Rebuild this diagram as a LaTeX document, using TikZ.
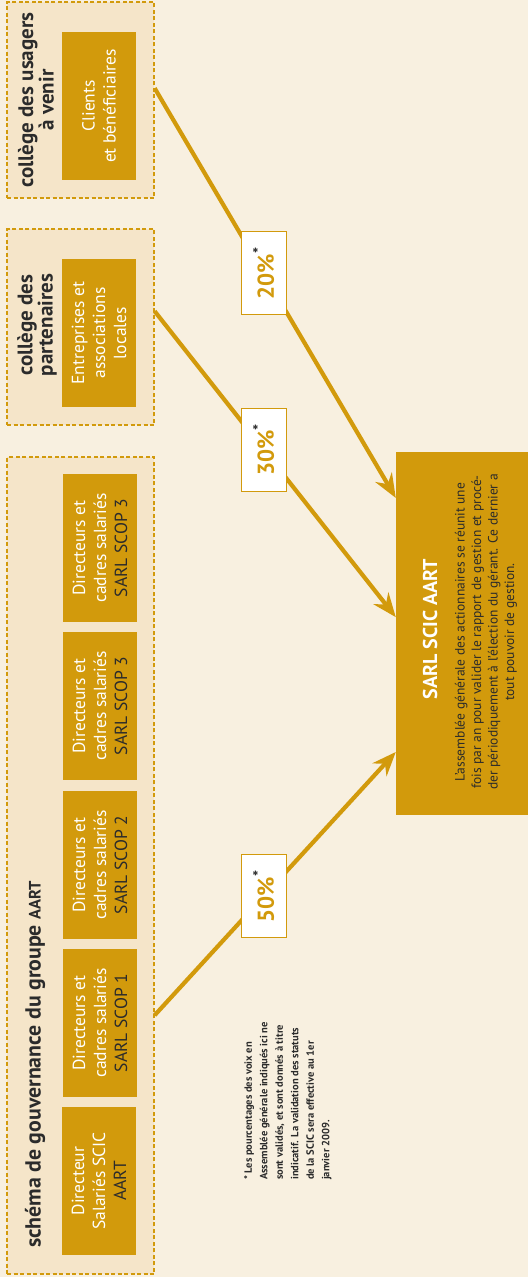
\documentclass[tikz,border=0pt]{standalone}
\usepackage{fontspec}
\setmainfont{PT Sans}
\usepackage{tikz}
\usetikzlibrary{arrows.meta,calc,positioning}
\definecolor{cream}{HTML}{F8F0E0}
\definecolor{sand}{HTML}{F5E5C9}
\definecolor{gold}{HTML}{D29A0C}
\definecolor{ink}{HTML}{2B2B2B}
\tikzset{
  college/.style={draw=gold, dash pattern=on 4pt off 2.5pt, line width=1.3pt,
    fill=sand, minimum width=147pt, inner sep=0pt},
  member/.style={fill=gold, text=white, rotate=90, minimum width=148pt,
    minimum height=74pt, inner sep=0pt, align=center,
    font=\fontsize{17.5}{21}\selectfont},
  heading/.style={rotate=90, text=ink, align=center, inner sep=0pt,
    font=\bfseries\fontsize{21}{19}\selectfont},
  vote/.style={draw=gold, line width=4.2pt,
    -{Stealth[length=24pt,width=19pt,inset=8pt]}},
  pct/.style={fill=white, draw=gold, line width=1pt, rotate=90, inner sep=0pt,
    minimum width=83pt, minimum height=45pt, text=gold,
    font=\bfseries\fontsize{23}{23}\selectfont},
}

\begin{document}
\begin{tikzpicture}[x=1pt, y=-1pt]
\useasboundingbox (0,0) rectangle (528,1277);
\fill[cream] (0,0) rectangle (528,1277);
% Colleges (dashed frames)
\node[college, minimum height=196pt] (usagers) at (80.5,100) {};
\node[college, minimum height=196pt] (partenaires) at (80.5,327) {};
\node[college, minimum height=817pt] (schema) at (80.5,865.5) {};
% College titles
\node[heading] (usagerstitle) at (36,100) {collège des usagers\\à venir};
\node[heading] (partenairestitle) at (37,325) {collège des\\partenaires};
\node[heading, anchor=west, font=\bfseries\fontsize{21.8}{19}\selectfont]
  (schematitle) at (35,1248)
  {schéma de gouvernance du groupe {\fontsize{16.5}{16}\selectfont AART}};
% Members
\node[member] (clients) at (99,106) {Clients\\et bénéficiaires};
\node[member] (entreprises) at (99,333) {Entreprises et\\associations\\locales};
\foreach \i/\y/\n in {1/548/3, 2/706/3, 3/865/2, 4/1023/1}{
  \node[member] (scop\i) at (100,\y)
    {Directeurs et\\cadres salariés\\{\color{ink}SARL SCOP \n}};
}
\node[member] (direction) at (99,1181) {Directeur\\Salariés SCIC\\{\color{ink}AART}};
% SCIC box
\node[fill=gold, minimum width=132pt, minimum height=363pt, inner sep=0pt]
  (scic) at (462,633.5) {};
\node[rotate=90, text=white, font=\bfseries\fontsize{20}{20}\selectfont]
  (scictitle) at (430,629) {SARL SCIC AART};
\node[rotate=90, text=ink, align=center, font=\fontsize{13.5}{16.5}\selectfont]
  (scicnote) at (486,632)
  {L’assemblée générale des actionnaires se réunit une\\
   fois par an pour valider le rapport de gestion et procé-\\
   der périodiquement à l’élection du gérant. Ce dernier a\\
   tout pouvoir de gestion.};
% Votes
\draw[vote] ($(usagers.north east)!0.44!(usagers.south east)$)
  -- node[pct, pos=0.452] (vusagers) {20\%\textsuperscript{\color{ink}*}}
  ($(scic.north west)!0.127!(scic.south west)$);
\draw[vote] ($(partenaires.north east)!0.42!(partenaires.south east)$)
  -- node[pct, pos=0.452] (vpartenaires) {30\%\textsuperscript{\color{ink}*}}
  ($(scic.north west)!0.455!(scic.south west)$);
\draw[vote] ($(schema.north east)!0.683!(schema.south east)$)
  -- node[pct, pos=0.452] (vschema) {50\%\textsuperscript{\color{ink}*}}
  ($(scic.north west)!0.826!(scic.south west)$);
% Footnote
\node[rotate=90, anchor=north west, align=left, text=ink, inner sep=0pt,
  font=\bfseries\fontsize{10.5}{15.5}\selectfont] (footnote) at (244,1180)
  {* Les pourcentages des voix en\\
   Assemblée générale indiqués ici ne\\
   sont validés, et sont donnés à titre\\
   indicatif. La validation des statuts\\
   de la SCIC sera effective au 1er\\
   janvier 2009.};
\end{tikzpicture}
\end{document}
